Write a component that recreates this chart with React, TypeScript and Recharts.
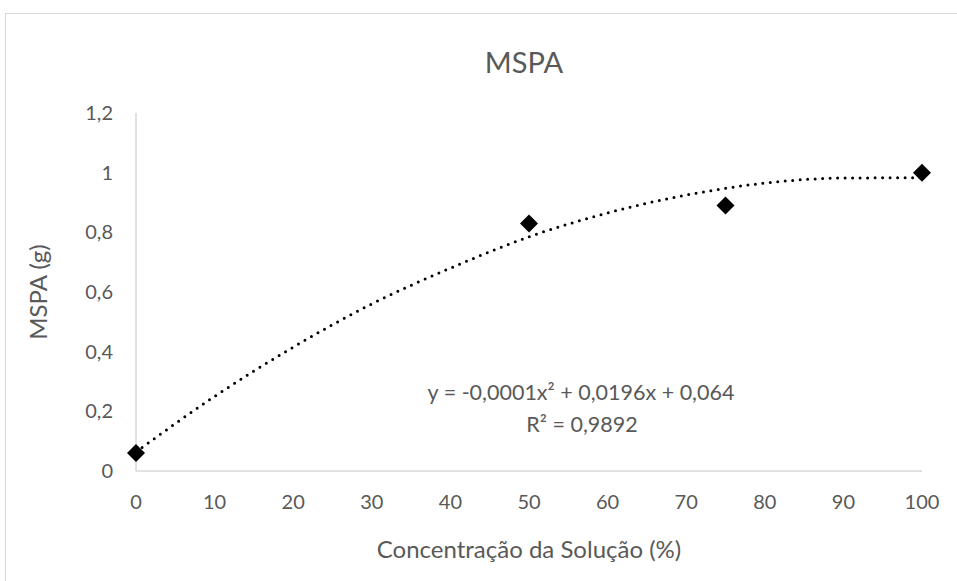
import { ComposedChart, Line, Scatter, XAxis, YAxis } from 'recharts';

// measured points (concentration %, dry mass g)
const concentracao = [0, 50, 75, 100];
const mspa = [0.06, 0.83, 0.89, 1.0];

// dotted polynomial trendline, every 10 %
const trendX = [0, 10, 20, 30, 40, 50, 60, 70, 80, 90, 100];
const trendY = [0.064, 0.25, 0.415, 0.56, 0.68, 0.785, 0.865, 0.925, 0.965, 0.982, 0.983];

const xTicks = [0, 10, 20, 30, 40, 50, 60, 70, 80, 90, 100];
const yTicks = [0, 0.2, 0.4, 0.6, 0.8, 1, 1.2];

const equationText = 'y = -0,0001x² + 0,0196x + 0,064';
const r2Text = 'R² = 0,9892';

const FONT = 'Lato, "Open Sans", sans-serif';
const TEXT = '#595959';
const AXIS = '#c4c4c4';

const points = concentracao.map((x, i) => ({ x, y: mspa[i] }));
const trend = trendX.map((x, i) => ({ x, trend: trendY[i] }));

const fmt = (v: number) => String(Math.round(v * 10) / 10).replace('.', ',');

// Excel style filled diamond (square turned 45deg)
const Diamond = (props: any) => {
  const { cx, cy } = props;
  const r = 9;
  return (
    <polygon
      points={`${cx},${cy - r} ${cx + r},${cy} ${cx},${cy + r} ${cx - r},${cy}`}
      fill="#000"
    />
  );
};

export default function App() {
  return (
    <div style={{ position: 'absolute', left: 0, top: 0, width: 957, height: 581, background: '#fff', overflow: 'hidden', fontFamily: FONT }}>
      {/* chart area border, only left/top visible in the crop */}
      <div style={{ position: 'absolute', left: 5, top: 13, width: 1000, height: 700, borderLeft: '1px solid #d9d9d9', borderTop: '1px solid #d9d9d9' }} />

      <ComposedChart
        width={957}
        height={581}
        data={trend}
        margin={{ top: 113, right: 35, bottom: 0, left: 0 }}
        style={{ position: 'absolute', left: 0, top: 0 }}
      >
        <XAxis
          dataKey="x"
          type="number"
          domain={[0, 100]}
          ticks={xTicks}
          height={110}
          stroke={AXIS}
          tickLine={false}
          tickSize={0}
          tickMargin={24}
          tick={{ fill: TEXT, fontSize: 20, fontFamily: FONT }}
          label={{ value: 'Concentração da Solução (%)', position: 'insideBottom', offset: 23, fill: TEXT, fontSize: 24, fontFamily: FONT }}
        />
        <YAxis
          type="number"
          domain={[0, 1.2]}
          ticks={yTicks}
          width={136}
          stroke={AXIS}
          tickLine={false}
          tickSize={0}
          tickMargin={23}
          tickFormatter={fmt}
          tick={{ fill: TEXT, fontSize: 20, fontFamily: FONT }}
          label={{ value: 'MSPA (g)', angle: -90, position: 'center', dx: -30, fill: TEXT, fontSize: 24, fontFamily: FONT }}
        />
        <Line
          dataKey="trend"
          type="monotone"
          stroke="#000"
          strokeWidth={3}
          strokeDasharray="0 7.5"
          strokeLinecap="round"
          dot={false}
          activeDot={false}
          isAnimationActive={false}
        />
        <Scatter data={points} dataKey="y" shape={<Diamond />} isAnimationActive={false} />
      </ComposedChart>

      <div style={{ position: 'absolute', left: 524, top: 61, transform: 'translate(-50%, -50%)', fontSize: 29, color: TEXT, lineHeight: 1, whiteSpace: 'nowrap' }}>
        MSPA
      </div>
      <div style={{ position: 'absolute', left: 581, top: 393, transform: 'translate(-50%, -50%)', fontSize: 21.5, color: TEXT, lineHeight: 1, whiteSpace: 'nowrap' }}>
        {equationText}
      </div>
      <div style={{ position: 'absolute', left: 582, top: 425, transform: 'translate(-50%, -50%)', fontSize: 21.5, color: TEXT, lineHeight: 1, whiteSpace: 'nowrap' }}>
        {r2Text}
      </div>
    </div>
  );
}
